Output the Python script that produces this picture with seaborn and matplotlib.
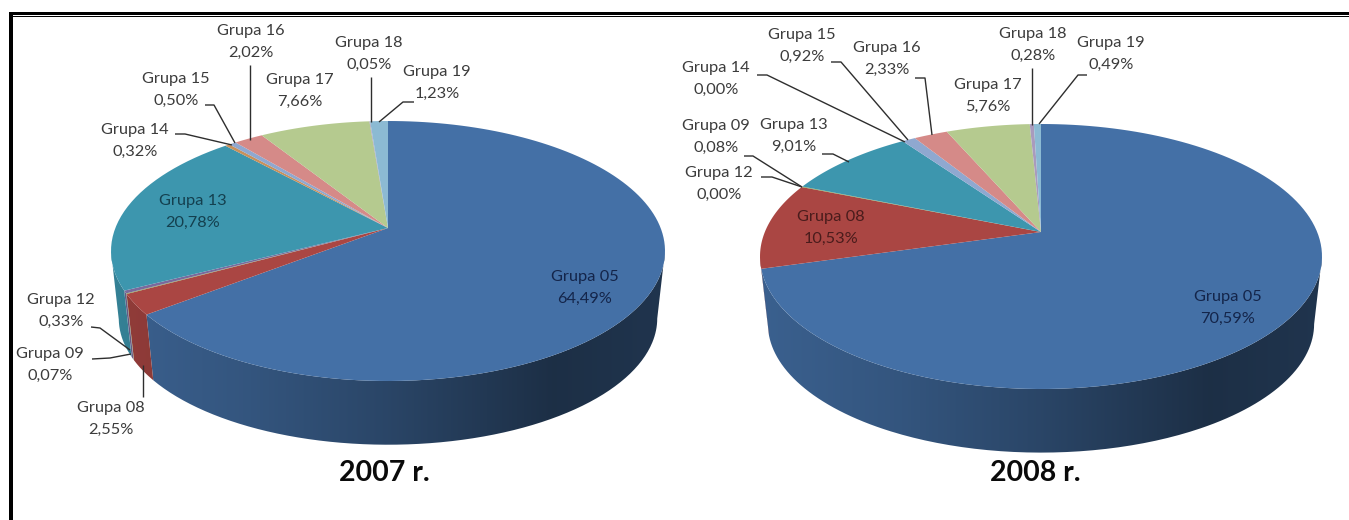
import numpy as np
import matplotlib
matplotlib.use("Agg")
import matplotlib.pyplot as plt
import seaborn as sns
from matplotlib.colors import LinearSegmentedColormap, to_rgb
from matplotlib.patches import PathPatch
from matplotlib.path import Path
from matplotlib.transforms import Transform

sns.set_theme(style="white")
plt.rcParams["font.family"] = ["Lato", "DejaVu Sans"]

groups = ["Grupa 05", "Grupa 08", "Grupa 09", "Grupa 12", "Grupa 13", "Grupa 14",
          "Grupa 15", "Grupa 16", "Grupa 17", "Grupa 18", "Grupa 19"]
values_2007 = [64.49, 2.55, 0.07, 0.33, 20.78, 0.32, 0.50, 2.02, 7.66, 0.05, 1.23]
values_2008 = [70.59, 10.53, 0.08, 0.00, 9.01, 0.00, 0.92, 2.33, 5.76, 0.28, 0.49]
palette = sns.color_palette(["#4470A6", "#AA4643", "#89A54E", "#7A6A9C", "#3D96AE", "#C9905A",
                             "#8FA8D0", "#D58A88", "#B5CA8F", "#A99BBD", "#8CBAD3"])

label_pos_2007 = [(585, 288), (111, 419), (50, 365), (61, 311), (193, 212), (135, 141),
                  (176, 90), (251, 42), (300, 91), (369, 54), (437, 83)]
label_pos_2008 = [(1228, 308), (831, 228), (716, 137), (719, 184), (794, 136), (716, 79),
                  (802, 46), (887, 59), (988, 96), (1033, 45), (1111, 54)]
label_colors_2007 = {"Grupa 05": "#14254a", "Grupa 13": "#14404f"}
label_colors_2008 = {"Grupa 05": "#14254a", "Grupa 08": "#4a1c1c"}

leaders_2007 = [[(143, 397), (143, 365)],
                [(92, 359), (110, 358), (131, 354)],
                [(91, 327), (100, 328), (130, 350)],
                [(175, 134), (185, 134), (232, 145)],
                [(205, 105), (214, 105), (235, 143)],
                [(250, 65), (250, 140)],
                [(371, 77), (371, 122)],
                [(379, 122), (403, 102), (414, 102)]]
leaders_2008 = [[(761, 177), (772, 177), (802, 187)],
                [(744, 156), (753, 156), (802, 187)],
                [(822, 154), (833, 154), (849, 162)],
                [(757, 75), (767, 75), (905, 142)],
                [(831, 62), (841, 62), (908, 140)],
                [(915, 78), (925, 78), (932, 135)],
                [(1032, 68), (1032, 125)],
                [(1039, 124), (1078, 75), (1087, 75)]]


class Perspective(Transform):
    """Tilts a unit pie into screen pixels, far side smaller than near side."""
    input_dims = 2
    output_dims = 2
    is_affine = False
    has_inverse = False

    def __init__(self, cx, cy, up, down, rx, scale=1.0, shift=0.0):
        super().__init__()
        self.k = (down - up) / (down + up)
        self.b = up * (1 + self.k)
        self.a = rx * np.sqrt(1 - self.k ** 2)
        self.cx, self.cy, self.scale, self.shift = cx, cy, scale, shift

    def transform_non_affine(self, values):
        values = np.asarray(values, float)
        w = 1 + self.k * values[:, 1]
        x = self.cx + self.scale * self.a * values[:, 0] / w
        y = self.cy + self.shift - self.scale * self.b * values[:, 1] / w
        return np.column_stack([x, y])

    def transform_path_non_affine(self, path):
        pts = []
        for seg, code in path.iter_bezier():
            if code == Path.MOVETO:
                pts.append(seg.control_points[0])
            else:
                pts.extend(seg(np.linspace(0, 1, 17))[1:])
        return Path(self.transform_non_affine(np.array(pts)))


def side_cmap(color):
    base = np.array(to_rgb(color))
    stops = [(0.0, 0.86), (0.25, 0.76), (0.5, 0.62), (0.8, 0.42), (1.0, 0.47)]
    return LinearSegmentedColormap.from_list("side", [(p, tuple(base * f)) for p, f in stops])


def draw_pie(ax, values, cx, cy, up, down, rx, positions, colors, leaders, title, title_x):
    top = Perspective(cx, cy, up, down, rx)
    base = Perspective(cx, cy, up, down, rx, scale=0.972, shift=68)

    wedges, _ = ax.pie(values, colors=palette, startangle=90, counterclock=False, radius=1,
                       wedgeprops={"linewidth": 0, "zorder": 3})
    for w in wedges:
        w.set_transform(top + ax.transData)

    # Visible wall between the two silhouette angles
    probe = np.radians(np.arange(0, 360, 0.25))
    px = top.transform_non_affine(np.column_stack([np.sin(probe), np.cos(probe)]))[:, 0]
    t_right, t_left = probe[np.argmax(px)], probe[np.argmin(px)]
    edges = np.radians(np.concatenate([[0], np.cumsum(values)]) / np.sum(values) * 360)
    for i in range(len(values)):
        a0, a1 = max(edges[i], t_right), min(edges[i + 1], t_left)
        if a1 <= a0:
            continue
        t = np.linspace(a0, a1, 200)
        unit = np.column_stack([np.sin(t), np.cos(t)])
        poly = np.vstack([top.transform_non_affine(unit), base.transform_non_affine(unit)[::-1]])
        patch = PathPatch(Path(np.vstack([poly, poly[0]])), transform=ax.transData,
                          facecolor="none", edgecolor="none")
        ax.add_patch(patch)
        img = ax.imshow(np.linspace(0, 1, 256)[None, :], cmap=side_cmap(palette[i]),
                        extent=(cx - rx, cx + rx, 470, 120), aspect="auto", zorder=2)
        img.set_clip_path(patch)

    for name, value, (tx, ty) in zip(groups, values, positions):
        ax.text(tx, ty, f"{name}\n{value:.2f}%".replace(".", ","), ha="center", va="center",
                fontsize=11.8, linespacing=1.72, color=colors.get(name, "#3c3c3c"), zorder=6)
    for line in leaders:
        xs, ys = zip(*line)
        ax.plot(xs, ys, color="#2e2e2e", lw=1.0, zorder=5, solid_capstyle="butt")
    ax.text(title_x, 473, title, ha="center", va="center", fontsize=20.5, fontweight="bold",
            color="#0a0a0a", zorder=6)


fig = plt.figure(figsize=(13.49, 5.2), dpi=100, facecolor="white")
ax = fig.add_axes([0, 0, 1, 1])

draw_pie(ax, values_2007, 388, 228, 107, 153, 277, label_pos_2007, label_colors_2007,
         leaders_2007, "2007 r.", 384)
draw_pie(ax, values_2008, 1041, 232, 108, 157, 281, label_pos_2008, label_colors_2008,
         leaders_2008, "2008 r.", 1035)

# Frame fragments of the source slide
ax.fill_between([9, 1349], 12, 14.6, color="black", lw=0, zorder=7)
ax.fill_between([13, 1349], 15.6, 17, color="black", lw=0, zorder=7)
ax.fill_between([9, 13], 12, 520, color="black", lw=0, zorder=7)

ax.set_aspect("auto")
ax.set_xlim(0, 1349)
ax.set_ylim(520, 0)
ax.axis("off")
fig.savefig("out.png", dpi=100)
